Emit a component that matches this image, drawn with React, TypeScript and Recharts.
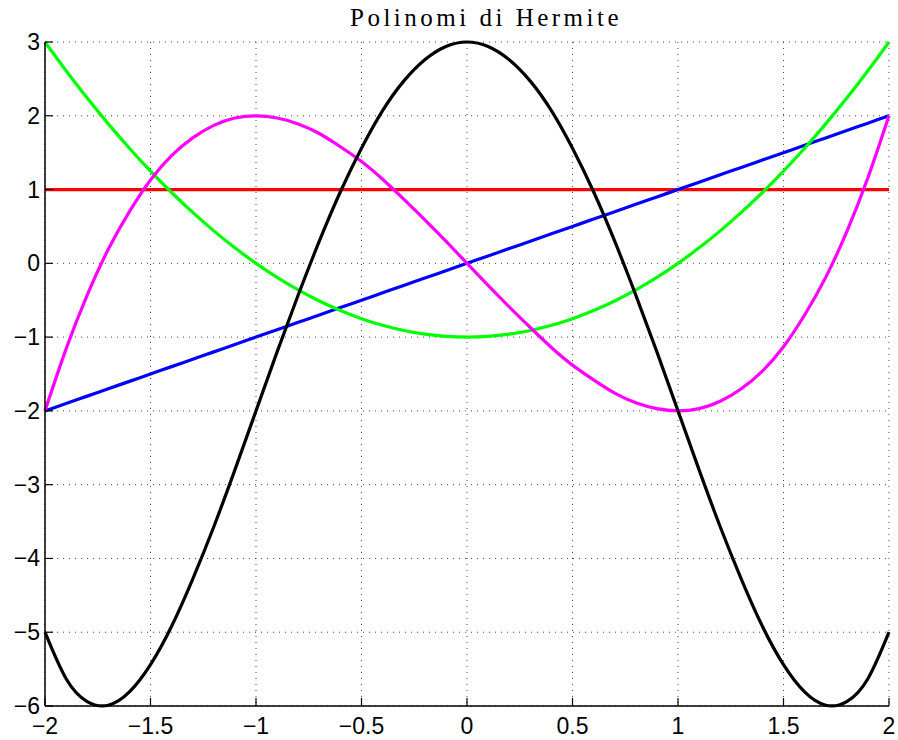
import { CartesianGrid, Line, LineChart, XAxis, YAxis } from 'recharts';

const xValues = [
  -2, -1.9, -1.8, -1.7, -1.6, -1.5, -1.4, -1.3, -1.2, -1.1, -1, -0.9, -0.8, -0.7, -0.6, -0.5, -0.4, -0.3, -0.2,
  -0.1, 0, 0.1, 0.2, 0.3, 0.4, 0.5, 0.6, 0.7, 0.8, 0.9, 1, 1.1, 1.2, 1.3, 1.4, 1.5, 1.6, 1.7, 1.8, 1.9, 2,
];

// H0 .. H4
const h0 = [1, 1, 1, 1, 1, 1, 1, 1, 1, 1, 1, 1, 1, 1, 1, 1, 1, 1, 1, 1, 1, 1, 1, 1, 1, 1, 1, 1, 1, 1, 1, 1, 1, 1, 1, 1, 1, 1, 1, 1, 1];
const h1 = [
  -2, -1.9, -1.8, -1.7, -1.6, -1.5, -1.4, -1.3, -1.2, -1.1, -1, -0.9, -0.8, -0.7, -0.6, -0.5, -0.4, -0.3, -0.2,
  -0.1, 0, 0.1, 0.2, 0.3, 0.4, 0.5, 0.6, 0.7, 0.8, 0.9, 1, 1.1, 1.2, 1.3, 1.4, 1.5, 1.6, 1.7, 1.8, 1.9, 2,
];
const h2 = [
  3, 2.61, 2.24, 1.89, 1.56, 1.25, 0.96, 0.69, 0.44, 0.21, 0, -0.19, -0.36, -0.51, -0.64, -0.75, -0.84, -0.91,
  -0.96, -0.99, -1, -0.99, -0.96, -0.91, -0.84, -0.75, -0.64, -0.51, -0.36, -0.19, 0, 0.21, 0.44, 0.69, 0.96,
  1.25, 1.56, 1.89, 2.24, 2.61, 3,
];
const h3 = [
  -2, -1.16, -0.43, 0.19, 0.7, 1.13, 1.46, 1.7, 1.87, 1.97, 2, 1.97, 1.89, 1.76, 1.58, 1.38, 1.14, 0.87, 0.59,
  0.3, 0, -0.3, -0.59, -0.87, -1.14, -1.38, -1.58, -1.76, -1.89, -1.97, -2, -1.97, -1.87, -1.7, -1.46, -1.13,
  -0.7, -0.19, 0.43, 1.16, 2,
];
const h4 = [
  -5, -5.63, -5.94, -5.99, -5.81, -5.44, -4.92, -4.28, -3.57, -2.8, -2, -1.2, -0.43, 0.3, 0.97, 1.56, 2.07,
  2.47, 2.76, 2.94, 3, 2.94, 2.76, 2.47, 2.07, 1.56, 0.97, 0.3, -0.43, -1.2, -2, -2.8, -3.57, -4.28, -4.92,
  -5.44, -5.81, -5.99, -5.94, -5.63, -5,
];

const xTicks = [-2, -1.5, -1, -0.5, 0, 0.5, 1, 1.5, 2];
const yTicks = [-6, -5, -4, -3, -2, -1, 0, 1, 2, 3];

const data = xValues.map((x, i) => ({ x, h0: h0[i], h1: h1[i], h2: h2[i], h3: h3[i], h4: h4[i] }));

const fmt = (v: number) => (v < 0 ? `\u2212${Math.abs(v)}` : `${v}`);
const tickFont = { fontFamily: '"Liberation Sans", Arial, sans-serif', fontSize: 23, fill: '#000' };

function XTick({ x, y, payload }: any) {
  return (
    <g>
      <line x1={x} y1={y} x2={x} y2={y - 8} stroke="#000" strokeWidth={1.2} />
      <text x={x} y={y + 28} textAnchor="middle" {...tickFont}>
        {fmt(payload.value)}
      </text>
    </g>
  );
}

function YTick({ x, y, payload }: any) {
  return (
    <g>
      <line x1={x} y1={y} x2={x + 8} y2={y} stroke="#000" strokeWidth={1.2} />
      <text x={x - 5} y={y + 8} textAnchor="end" {...tickFont}>
        {fmt(payload.value)}
      </text>
    </g>
  );
}

const series = [
  { key: 'h0', color: '#ff0000' },
  { key: 'h1', color: '#0000ff' },
  { key: 'h2', color: '#00ff00' },
  { key: 'h3', color: '#ff00ff' },
  { key: 'h4', color: '#000000' },
];

export default function App() {
  return (
    <div style={{ position: 'absolute', left: 0, top: 0, width: 898, height: 740, background: '#fff' }}>
      <div
        style={{
          position: 'absolute',
          top: 5,
          left: 350,
          whiteSpace: 'nowrap',
          lineHeight: '25px',
          fontFamily: '"Liberation Serif", serif',
          fontSize: 25,
          letterSpacing: 3.5,
          color: '#000',
        }}
      >
        Polinomi di Hermite
      </div>
      <LineChart width={898} height={740} data={data} margin={{ top: 42, right: 9, bottom: 0, left: 0 }}>
        <CartesianGrid stroke="#444" strokeDasharray="1 5" strokeWidth={1} />
        <XAxis
          dataKey="x"
          type="number"
          domain={[-2, 2]}
          ticks={xTicks}
          height={34}
          tickSize={0}
          tickMargin={0}
          tick={<XTick />}
          axisLine={{ stroke: '#000', strokeWidth: 1.5 }}
          interval={0}
        />
        <YAxis
          type="number"
          domain={[-6, 3]}
          ticks={yTicks}
          width={45}
          tickSize={0}
          tickMargin={0}
          tick={<YTick />}
          axisLine={{ stroke: '#000', strokeWidth: 1.5 }}
          interval={0}
        />
        {series.map((s) => (
          <Line
            key={s.key}
            dataKey={s.key}
            type="natural"
            stroke={s.color}
            strokeWidth={3.2}
            dot={false}
            isAnimationActive={false}
          />
        ))}
      </LineChart>
    </div>
  );
}
